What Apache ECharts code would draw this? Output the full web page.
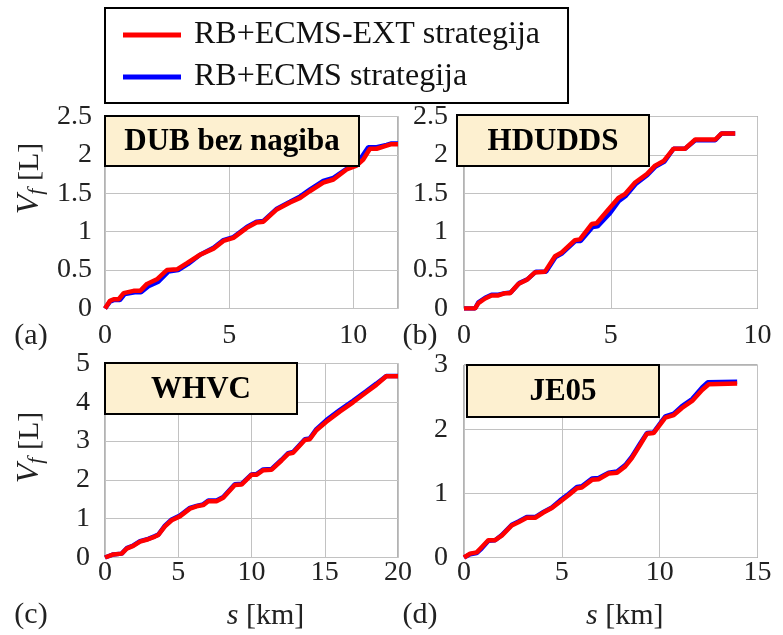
<!DOCTYPE html>
<html>
<head>
<meta charset="utf-8">
<script src="https://cdn.jsdelivr.net/npm/echarts@6/dist/echarts.min.js"></script>
<style>html,body{margin:0;padding:0;background:#fff}#c{width:783px;height:635px}</style>
</head>
<body>
<div id="c"></div>
<script>
// ---- data: [s (km), V_f (L)] ----
const dubExt = [[0,0],[0.2,0.1],[0.35,0.12],[0.55,0.12],[0.75,0.2],[1.15,0.23],[1.42,0.23],[1.69,0.32],[2.09,0.38],[2.49,0.5],[2.9,0.51],[3.3,0.59],[3.83,0.7],[4.37,0.78],[4.77,0.88],[5.17,0.92],[5.71,1.05],[6.1,1.12],[6.38,1.13],[6.92,1.29],[7.45,1.38],[7.86,1.44],[8.26,1.53],[8.79,1.64],[9.2,1.68],[9.73,1.81],[10.13,1.86],[10.4,1.94],[10.67,2.08],[10.94,2.08],[11.34,2.12],[11.54,2.14],[11.8,2.14]];
const dubBase = [[0,0],[0.2,0.09],[0.35,0.11],[0.6,0.11],[0.8,0.19],[1.2,0.21],[1.45,0.21],[1.75,0.29],[2.15,0.35],[2.55,0.48],[2.95,0.5],[3.35,0.58],[3.83,0.7],[4.37,0.79],[4.77,0.89],[5.17,0.93],[5.71,1.06],[6.1,1.13],[6.38,1.14],[6.92,1.3],[7.45,1.39],[7.86,1.46],[8.26,1.55],[8.79,1.66],[9.2,1.7],[9.73,1.82],[10.1,1.88],[10.35,1.98],[10.6,2.1],[10.94,2.1],[11.34,2.13],[11.54,2.15],[11.8,2.15]];
const hdExt = [[0,0],[0.375,0],[0.49,0.07],[0.72,0.13],[0.94,0.17],[1.17,0.17],[1.4,0.2],[1.57,0.2],[1.85,0.32],[2.13,0.37],[2.42,0.47],[2.76,0.48],[3.1,0.68],[3.33,0.73],[3.78,0.89],[3.95,0.9],[4.35,1.1],[4.52,1.11],[4.92,1.29],[5.26,1.44],[5.49,1.49],[5.83,1.64],[6.23,1.75],[6.51,1.86],[6.8,1.92],[7.14,2.08],[7.53,2.08],[7.88,2.2],[8.56,2.2],[8.78,2.28],[9.24,2.28]];
const hdBase = [[0,0],[0.375,0],[0.49,0.08],[0.72,0.14],[0.94,0.18],[1.17,0.18],[1.4,0.2],[1.6,0.21],[1.88,0.33],[2.16,0.38],[2.45,0.48],[2.8,0.48],[3.12,0.67],[3.35,0.72],[3.8,0.88],[3.98,0.88],[4.38,1.06],[4.55,1.07],[4.95,1.23],[5.28,1.4],[5.52,1.47],[5.85,1.62],[6.25,1.74],[6.53,1.85],[6.82,1.91],[7.14,2.08],[7.53,2.08],[7.88,2.19],[8.56,2.19],[8.78,2.28],[9.24,2.28]];
const whExt = [[0,0],[0.57,0.08],[1.14,0.1],[1.48,0.23],[1.93,0.3],[2.39,0.41],[2.95,0.47],[3.41,0.54],[3.64,0.58],[4.09,0.8],[4.55,0.96],[5.11,1.06],[5.8,1.26],[6.25,1.32],[6.7,1.35],[7.05,1.45],[7.61,1.45],[8.07,1.54],[8.86,1.87],[9.32,1.88],[10.0,2.13],[10.34,2.13],[10.8,2.25],[11.36,2.26],[12.05,2.5],[12.5,2.67],[12.84,2.7],[13.64,3.03],[13.98,3.05],[14.43,3.28],[15.11,3.5],[16.02,3.76],[16.93,4.0],[17.84,4.26],[18.52,4.45],[19.2,4.67],[20,4.67]];
const whBase = [[0,0],[0.57,0.08],[1.14,0.1],[1.48,0.24],[1.93,0.31],[2.39,0.42],[2.95,0.48],[3.41,0.55],[3.64,0.59],[4.09,0.82],[4.55,0.98],[5.11,1.08],[5.8,1.28],[6.25,1.33],[6.7,1.37],[7.05,1.47],[7.61,1.47],[8.07,1.56],[8.86,1.89],[9.32,1.9],[10.0,2.14],[10.34,2.15],[10.8,2.27],[11.36,2.28],[12.05,2.52],[12.5,2.69],[12.84,2.72],[13.64,3.05],[13.98,3.07],[14.43,3.31],[15.11,3.54],[16.02,3.8],[16.93,4.04],[17.84,4.29],[18.52,4.48],[19.2,4.68],[20,4.68]];
const jeExt = [[0,0],[0.31,0.06],[0.65,0.08],[0.9,0.16],[1.25,0.27],[1.59,0.27],[1.93,0.34],[2.44,0.5],[2.78,0.55],[3.21,0.62],[3.64,0.62],[4.06,0.7],[4.49,0.77],[4.91,0.87],[5.34,0.97],[5.77,1.08],[6.02,1.09],[6.54,1.21],[6.88,1.22],[7.39,1.31],[7.82,1.32],[8.24,1.42],[8.58,1.55],[9.01,1.76],[9.35,1.93],[9.69,1.94],[10.29,2.18],[10.72,2.22],[11.14,2.33],[11.66,2.44],[12.17,2.61],[12.51,2.7],[13.96,2.71]];
const jeBase = [[0,0],[0.31,0.05],[0.65,0.07],[0.9,0.14],[1.25,0.26],[1.59,0.27],[1.93,0.35],[2.44,0.51],[2.78,0.56],[3.21,0.63],[3.64,0.63],[4.06,0.71],[4.49,0.78],[4.91,0.89],[5.34,0.99],[5.77,1.1],[6.02,1.11],[6.54,1.23],[6.88,1.24],[7.39,1.32],[7.82,1.34],[8.24,1.44],[8.58,1.57],[9.01,1.78],[9.35,1.94],[9.69,1.95],[10.29,2.2],[10.72,2.24],[11.14,2.36],[11.66,2.47],[12.17,2.65],[12.45,2.73],[13.96,2.74]];

const cycleNames = ['DUB bez nagiba', 'HDUDDS', 'WHVC', 'JE05'];
const panelLabels = ['(a)', '(b)', '(c)', '(d)'];
const extName = 'RB+ECMS-EXT strategija';
const baseName = 'RB+ECMS strategija';
const xMax = [11.8, 10, 20, 15];
const xStep = [5, 5, 5, 5];
const yMax = [2.5, 2.5, 5, 3];
const yStep = [0.5, 0.5, 1, 1];

const FONT = "'Liberation Serif','Times New Roman',serif";
const extSets = [dubExt, hdExt, whExt, jeExt];
const baseSets = [dubBase, hdBase, whBase, jeBase];

const grids = [
  {left: 105, top: 116.5, width: 293, height: 192},
  {left: 464, top: 116.5, width: 293.5, height: 192},
  {left: 105, top: 363.5, width: 293, height: 194},
  {left: 464, top: 365, width: 293.5, height: 192.5}
];
const xMargin = [13, 13, 1, 1];
const yMargin = [13, 16, 15, 16];

const xAxes = grids.map((g, i) => ({
  type: 'value', gridIndex: i, min: 0, max: xMax[i], interval: xStep[i],
  axisLine: {show: false}, axisTick: {show: false},
  splitLine: {show: true, lineStyle: {color: '#c2c2c2', width: 1}},
  axisLabel: {showMaxLabel: xMax[i] % xStep[i] === 0, margin: xMargin[i], fontFamily: FONT, fontSize: 28, color: '#222'},
  name: i >= 2 ? '{s|s} [km]' : '', nameLocation: 'middle', nameGap: 44,
  nameTextStyle: {fontFamily: FONT, fontSize: 30, color: '#222', padding: [0, 0, 0, 28],
    rich: {s: {fontFamily: FONT, fontSize: 30, fontStyle: 'italic', color: '#222'}}}
}));
const yAxes = grids.map((g, i) => ({
  type: 'value', gridIndex: i, min: 0, max: yMax[i], interval: yStep[i],
  axisLine: {show: false}, axisTick: {show: false},
  splitLine: {show: true, lineStyle: {color: '#c2c2c2', width: 1}},
  axisLabel: {margin: yMargin[i], fontFamily: FONT, fontSize: 28, color: '#222'},
  name: (i === 0 || i === 2) ? '{v|V}{f|f}{n| [L]}' : '', nameLocation: 'middle', nameGap: 58,
  nameTextStyle: {fontFamily: FONT, fontSize: 30, color: '#222', padding: [0, 0, 0, i === 0 ? 68 : 26],
    rich: {
      v: {fontFamily: FONT, fontSize: 32, fontStyle: 'italic', color: '#222'},
      f: {fontFamily: FONT, fontSize: 22, fontStyle: 'italic', color: '#222', padding: [12, 0, 0, 0]},
      n: {fontFamily: FONT, fontSize: 30, color: '#222'}
    }}
}));

const series = [];
grids.forEach((g, i) => {
  series.push({name: baseName, type: 'line', xAxisIndex: i, yAxisIndex: i, data: baseSets[i],
    showSymbol: false, symbol: 'none', color: '#0000ff', lineStyle: {width: 4.5, color: '#0000ff'}, z: 2, animation: false});
  series.push({name: extName, type: 'line', xAxisIndex: i, yAxisIndex: i, data: extSets[i],
    showSymbol: false, symbol: 'none', color: '#ff0000', lineStyle: {width: 4.5, color: '#ff0000'}, z: 3, animation: false});
});

const boxes = [
  {x: 105, y: 116, w: 254, h: 50},
  {x: 457, y: 115, w: 192, h: 51},
  {x: 105, y: 363, w: 192, h: 51},
  {x: 467, y: 365, w: 192, h: 52}
];
const labelPos = [[31, 336], [420, 336], [31, 615], [420, 615]];
const graphic = [];
boxes.forEach((b, i) => {
  graphic.push({type: 'rect', z: 100, shape: {x: b.x, y: b.y, width: b.w, height: b.h},
    style: {fill: '#fdf0d0', stroke: '#000', lineWidth: 2}});
  graphic.push({type: 'text', z: 101, x: b.x + b.w / 2, y: b.y + b.h / 2 + 1,
    style: {text: cycleNames[i], fontFamily: FONT, fontSize: 31, fontWeight: 'bold', fill: '#000', align: 'center', verticalAlign: 'middle'}});
  graphic.push({type: 'text', z: 101, x: labelPos[i][0], y: labelPos[i][1],
    style: {text: panelLabels[i], fontFamily: FONT, fontSize: 30, fill: '#222', align: 'center', verticalAlign: 'middle'}});
});

const chart = echarts.init(document.getElementById('c'), null, {renderer: 'canvas'});
chart.setOption({
  animation: false,
  backgroundColor: '#fff',
  grid: grids.map(g => Object.assign({show: true, borderColor: '#666', borderWidth: 1, backgroundColor: 'transparent'}, g)),
  xAxis: xAxes,
  yAxis: yAxes,
  legend: {
    data: [extName, baseName], orient: 'vertical', left: 105, top: 8,
    padding: [11, 28, 10, 18], itemGap: 10, itemWidth: 58, itemHeight: 5, icon: 'rect',
    borderColor: '#000', borderWidth: 2, backgroundColor: '#fff', selectedMode: false,
    textStyle: {fontFamily: FONT, fontSize: 32, color: '#111', lineHeight: 32, padding: [0, 0, 0, 8]}
  },
  series: series,
  graphic: graphic
});
</script>
</body>
</html>
